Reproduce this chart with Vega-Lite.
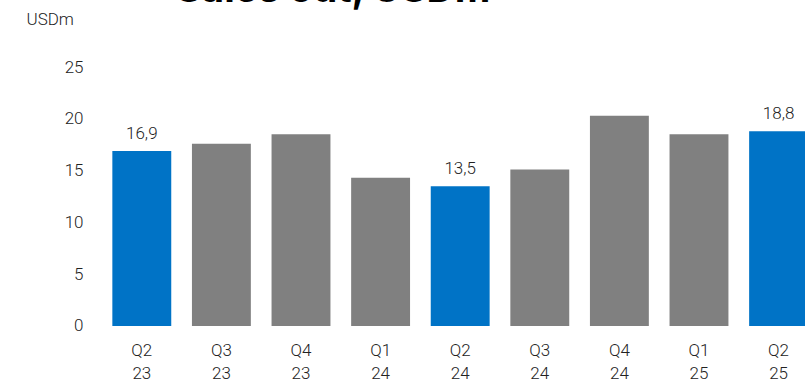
{
  "$schema": "https://vega.github.io/schema/vega-lite/v6.json",
  "width": 716.4,
  "height": 259,
  "autosize": {"type": "none"},
  "padding": {"left": 102, "top": 67, "right": 0, "bottom": 60},
  "background": "white",
  "title": {
    "text": "Sales out, USDm",
    "fontSize": 39,
    "fontWeight": "bold",
    "font": "Inter",
    "color": "#000000",
    "anchor": "start",
    "frame": "group",
    "dx": 74,
    "dy": 35,
    "baseline": "alphabetic",
    "offset": 4
  },
  "data": {
    "values": [
      {"q": "Q2 23", "v": 16.9, "hl": true},
      {"q": "Q3 23", "v": 17.6, "hl": false},
      {"q": "Q4 23", "v": 18.5, "hl": false},
      {"q": "Q1 24", "v": 14.3, "hl": false},
      {"q": "Q2 24", "v": 13.5, "hl": true},
      {"q": "Q3 24", "v": 15.1, "hl": false},
      {"q": "Q4 24", "v": 20.3, "hl": false},
      {"q": "Q1 25", "v": 18.5, "hl": false},
      {"q": "Q2 25", "v": 18.8, "hl": true}
    ]
  },
  "encoding": {
    "x": {
      "field": "q",
      "type": "ordinal",
      "sort": null,
      "scale": {"paddingInner": 0.26, "paddingOuter": 0.13},
      "axis": {
        "title": null,
        "domain": false,
        "ticks": false,
        "labelAngle": 0,
        "labelExpr": "split(datum.label, ' ')",
        "labelFont": "Roboto",
        "labelFontWeight": 300,
        "labelFontSize": 17,
        "labelColor": "#222222",
        "labelLineHeight": 23,
        "labelPadding": 17
      }
    },
    "y": {
      "field": "v",
      "type": "quantitative",
      "scale": {"domain": [0, 25], "nice": false},
      "axis": {
        "title": "USDm",
        "titleAngle": 0,
        "titleAlign": "left",
        "titleBaseline": "middle",
        "titleX": -76,
        "titleY": -48,
        "titleFont": "Roboto",
        "titleFontSize": 17,
        "titleFontWeight": 300,
        "titleColor": "#222222",
        "values": [0, 5, 10, 15, 20, 25],
        "domain": false,
        "ticks": false,
        "grid": false,
        "labelFont": "Roboto",
        "labelFontWeight": 300,
        "labelFontSize": 17,
        "labelColor": "#222222",
        "labelPadding": 19
      }
    }
  },
  "layer": [
    {
      "mark": {"type": "bar"},
      "encoding": {
        "color": {
          "field": "hl",
          "type": "nominal",
          "scale": {"domain": [true, false], "range": ["#0073C6", "#808080"]},
          "legend": null
        }
      }
    },
    {
      "transform": [{"filter": "datum.hl"}],
      "mark": {"type": "text", "dy": -17, "font": "Roboto", "fontWeight": 300, "fontSize": 17, "color": "#222222"},
      "encoding": {
        "text": {"field": "v", "type": "quantitative", "format": ".1f"}
      }
    }
  ],
  "config": {
    "view": {"stroke": null},
    "locale": {"number": {"decimal": ",", "thousands": ".", "grouping": [3], "currency": ["", " €"]}}
  }
}
